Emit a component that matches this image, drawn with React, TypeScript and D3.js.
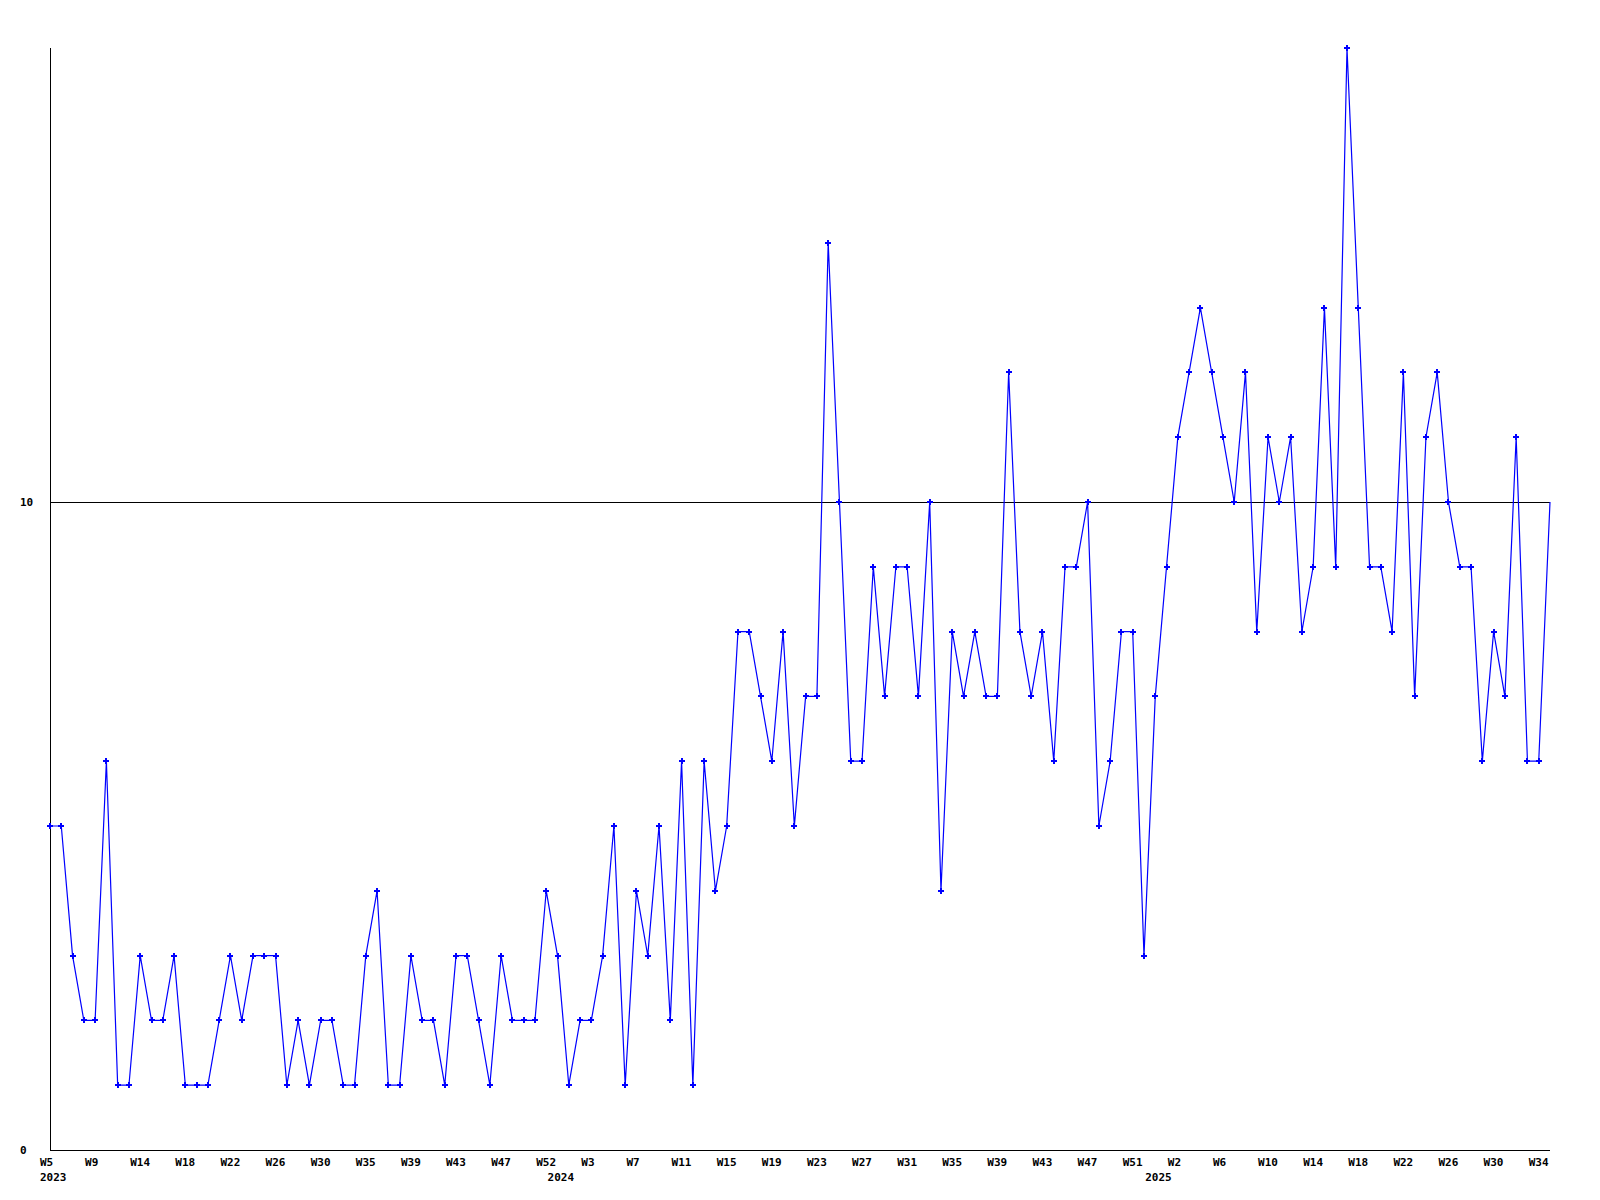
import React from "react";
import * as d3 from "d3";

const values: number[] = [
  5, 5, 3, 2, 2, 6, 1, 1, 3, 2, 2, 3, 1, 1, 1, 2, 3,
  2, 3, 3, 3, 1, 2, 1, 2, 2, 1, 1, 3, 4, 1, 1, 3, 2,
  2, 1, 3, 3, 2, 1, 3, 2, 2, 2, 4, 3, 1, 2, 2, 3, 5,
  1, 4, 3, 5, 2, 6, 1, 6, 4, 5, 8, 8, 7, 6, 8, 5, 7,
  7, 14, 10, 6, 6, 9, 7, 9, 9, 7, 10, 4, 8, 7, 8, 7, 7,
  12, 8, 7, 8, 6, 9, 9, 10, 5, 6, 8, 8, 3, 7, 9, 11, 12,
  13, 12, 11, 10, 12, 8, 11, 10, 11, 8, 9, 13, 9, 17, 13, 9, 9,
  8, 12, 7, 11, 12, 10, 9, 9, 6, 8, 7, 11, 6, 6, 10,
];

const weekLabels: string[] = [
  "W5", "W9", "W14", "W18", "W22", "W26", "W30", "W35", "W39", "W43", "W47", "W52",
  "W3", "W7", "W11", "W15", "W19", "W23", "W27", "W31", "W35", "W39", "W43", "W47", "W51",
  "W2", "W6", "W10", "W14", "W18", "W22", "W26", "W30", "W34",
];
const weekLabelStep = 4;

const yearLabels: string[] = ["2023", "2024", "2025"];
const yearIndex: number[] = [0, 45, 98];

const yTicks: number[] = [0, 10];
const yMax = 17;

export default function App() {
  const W = 1600;
  const H = 1200;
  const x = d3.scaleLinear().domain([0, values.length - 1]).range([50, 1550]);
  const y = d3.scaleLinear().domain([0, yMax]).range([1150, 48.4]);
  const line = d3
    .line<number>()
    .x((_, i) => x(i))
    .y((d) => y(d));
  const cross = d3.symbol().type(d3.symbolCross).size(20)() as string;
  const font = "'DejaVu Sans Mono', monospace";

  return (
    <svg
      width={W}
      height={H}
      style={{ position: "absolute", left: 0, top: 0, background: "#fff" }}
      shapeRendering="crispEdges"
    >
      <rect x={0} y={0} width={W} height={H} fill="#fff" />
      {yTicks
        .filter((t) => t > 0)
        .map((t) => (
          <line key={t} x1={x(0)} x2={x(values.length - 1)} y1={Math.round(y(t)) + 0.5} y2={Math.round(y(t)) + 0.5} stroke="#000" strokeWidth={1} />
        ))}
      <line x1={50.5} x2={50.5} y1={y(yMax)} y2={y(0)} stroke="#000" strokeWidth={1} />
      <line x1={50} x2={x(values.length - 1)} y1={Math.round(y(0)) + 0.5} y2={Math.round(y(0)) + 0.5} stroke="#000" strokeWidth={1} />
      {yTicks.map((t) => (
        <text key={t} x={20} y={y(t)} dy="0.35em" fontFamily={font} fontWeight="bold" fontSize={11} fill="#000">
          {t}
        </text>
      ))}
      {weekLabels.map((l, k) => (
        <text key={k} x={x(k * weekLabelStep) - 10} y={1166} fontFamily={font} fontWeight="bold" fontSize={11} fill="#000">
          {l}
        </text>
      ))}
      {yearLabels.map((l, k) => (
        <text key={l} x={x(yearIndex[k]) - 10} y={1181} fontFamily={font} fontWeight="bold" fontSize={11} fill="#000">
          {l}
        </text>
      ))}
      <path d={line(values) as string} fill="none" stroke="#0000ff" strokeWidth={1.2} shapeRendering="auto" />
      {values.slice(0, values.length - 1).map((v, i) => (
        <path key={i} d={cross} transform={`translate(${x(i)},${y(v)})`} fill="#0000ff" />
      ))}
    </svg>
  );
}
